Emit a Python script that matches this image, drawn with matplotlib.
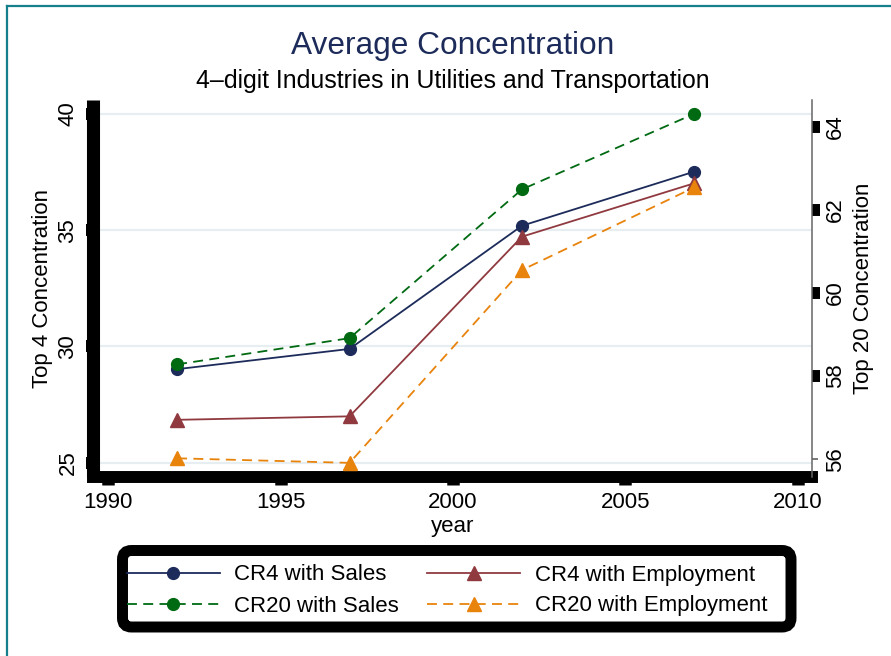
import matplotlib
matplotlib.use("Agg")
import matplotlib.pyplot as plt
from matplotlib.lines import Line2D
from matplotlib.patches import FancyBboxPatch

plt.rcParams['font.family'] = ['Liberation Sans', 'DejaVu Sans']

years = [1992, 1997, 2002, 2007]
cr4_sales = [29.02, 29.89, 35.19, 37.52]
cr4_emp = [26.84, 26.99, 34.72, 37.02]
cr20_sales = [58.28, 58.91, 62.49, 64.31]
cr20_emp = [56.02, 55.91, 60.55, 62.54]

left_ticks = [25, 30, 35, 40]
right_ticks = [58, 60, 62, 64]
right_low_tick = [56]
x_ticks = [1990, 1995, 2000, 2005, 2010]

NAVY = '#1c2b5a'
MAROON = '#903a40'
GREEN = '#006a12'
ORANGE = '#e8830c'
FS = 16

fig = plt.figure(figsize=(8.91, 6.56), dpi=100)
ax = fig.add_axes([93/891, 1-477/656, (812-93)/891, (477-100)/656])
ax2 = ax.twinx()

# grid on left axis
ax.set_yticks(left_ticks)
ax.grid(axis='y', color='#e6eef1', linewidth=1.6, zorder=0)
ax.set_axisbelow(True)

l1, = ax.plot(years, cr4_sales, color=NAVY, lw=1.3, marker='o', ms=8.5,
              label='CR4 with Sales', zorder=3)
l2, = ax.plot(years, cr4_emp, color=MAROON, lw=1.3, marker='^', ms=9.5,
              label='CR4 with Employment', zorder=3)
l3, = ax2.plot(years, cr20_sales, color=GREEN, lw=1.3, ls=(0, (5.5, 3.5)),
               marker='o', ms=8.5, label='CR20 with Sales', zorder=3)
l4, = ax2.plot(years, cr20_emp, color=ORANGE, lw=1.3, ls=(0, (5.5, 3.5)),
               marker='^', ms=9.5, label='CR20 with Employment', zorder=3)

ax.set_xlim(1989.56, 2010.41)
ax.set_ylim(24.38, 40.6)
ax2.set_ylim(55.57, 64.64)
ax.set_xticks(x_ticks)
ax2.set_yticks(right_ticks)
ax2.set_yticks(right_low_tick, labels=[str(v) for v in right_low_tick], minor=True)

# spines
for s in ['top', 'right']:
    ax.spines[s].set_visible(False)
for s in ['top', 'left', 'bottom']:
    ax2.spines[s].set_visible(False)
ax.spines['left'].set_linewidth(9.4)
ax.spines['left'].set_capstyle('butt')
ax.spines['bottom'].set_linewidth(8.6)
ax2.spines['right'].set_linewidth(1.1)
ax2.spines['right'].set_color('#666666')

ax.tick_params(axis='y', width=8.6, length=5, pad=5.5, labelsize=FS,
               labelrotation=90)
ax.tick_params(axis='x', width=9, length=6, pad=5, labelsize=FS)
ax2.tick_params(axis='y', which='major', width=8.6, length=5.5, pad=4,
                labelsize=FS, labelrotation=90)
ax2.tick_params(axis='y', which='minor', width=1.1, length=4.5, pad=5,
                color='#555555', labelsize=FS, labelrotation=90)
for lab in (ax.get_yticklabels() + ax2.get_yticklabels()
            + ax2.get_yticklabels(minor=True)):
    lab.set_va('center')

ax.set_ylabel('Top 4 Concentration', fontsize=FS, labelpad=3)
ax2.set_ylabel('Top 20 Concentration', fontsize=FS, labelpad=5)
ax.set_xlabel('year', fontsize=FS, labelpad=2)

fig.text(0.508, 1-46/656, 'Average Concentration', fontsize=22.8,
         color=NAVY, ha='center', va='center')
fig.text(0.508, 1-81/656, '4\u2013digit Industries in Utilities and Transportation',
         fontsize=17.9, color='black', ha='center', va='center')

# legend frame
frame = FancyBboxPatch((1.225, 0.29), 6.685, 0.765,
                       boxstyle='round,pad=0,rounding_size=0.09',
                       transform=fig.dpi_scale_trans, facecolor='white',
                       edgecolor='black', linewidth=7.9)
fig.add_artist(frame)
fig.legend(handles=[l1, l3, l2, l4], ncol=2, loc='center',
           bbox_to_anchor=(447/891, 1-590.5/656), frameon=False,
           fontsize=FS, handlelength=4.2, handletextpad=0.65,
           columnspacing=1.25, labelspacing=0.45, numpoints=1,
           borderpad=0)

# outer border
fig.add_artist(Line2D([6.5/891, 6.5/891], [0, 1-6/656], color='#157f8c', lw=1.6))
fig.add_artist(Line2D([6.5/891, 1], [1-6/656, 1-6/656], color='#157f8c', lw=1.6))

fig.savefig('out.png', dpi=100)
